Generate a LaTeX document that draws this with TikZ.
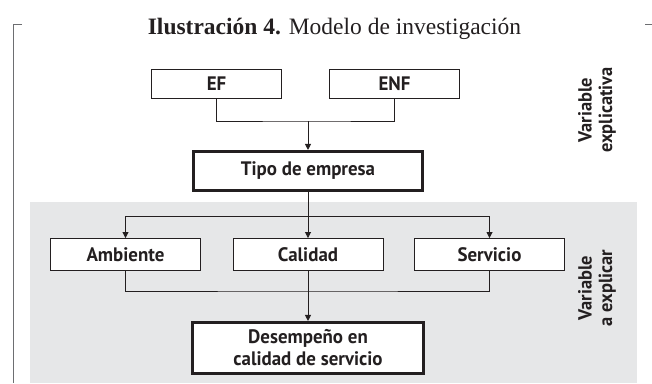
\documentclass[tikz,border=0pt]{standalone}
\usepackage{fontspec}
\setmainfont{Liberation Serif}
\newfontfamily\boxfont[FakeStretch=0.97]{PT Sans}
\usetikzlibrary{arrows.meta}
\definecolor{panelgray}{HTML}{E6E7E8}
\definecolor{markgray}{HTML}{6D6E71}
\definecolor{ink}{HTML}{231F20}
\tikzset{
  basebox/.style={draw=ink, fill=white, inner sep=0pt, text=ink,
    font=\boxfont\bfseries\fontsize{19.5}{22}\selectfont, align=center},
  thinbox/.style={basebox, line width=0.9pt},
  thickbox/.style={basebox, line width=2.6pt},
  conn/.style={draw=ink, line width=0.8pt},
  arr/.style={conn, -{Triangle[length=6pt,width=6pt]}},
  sidelabel/.style={rotate=90, align=center, text=ink, inner sep=0pt,
    font=\boxfont\bfseries\fontsize{19}{20.5}\selectfont},
  cornermark/.style={draw=markgray, line width=1pt}
}
\begin{document}
\begin{tikzpicture}[x=1pt,y=-1pt]
\useasboundingbox (0,0) rectangle (652,383);
% grey panel and frame marks
\fill[panelgray] (30,202) rectangle (637,383);
\draw[cornermark] (22,24) -- (13,24) -- (13,383);
\draw[cornermark] (645,24) -- (652,24);
% title
\node[anchor=base, inner sep=0pt, text=ink] (title) at (334.5,34)
  {\fontsize{23.5}{26}\selectfont\textbf{Ilustración 4.} Modelo de investigación};
% boxes
\node[thinbox, minimum width=130pt, minimum height=29pt] (ef)  at (216.5,84) {EF};
\node[thinbox, minimum width=130pt, minimum height=29pt] (enf) at (394.5,84) {ENF};
\node[thickbox, minimum width=229.5pt, minimum height=39.5pt] (tipo) at (308,171) {Tipo de empresa};
\node[thinbox, minimum width=150pt, minimum height=32pt] (amb)  at (125.5,254.5) {Ambiente};
\node[thinbox, minimum width=150pt, minimum height=32pt] (cal)  at (308,254.5) {Calidad};
\node[thinbox, minimum width=150pt, minimum height=32pt] (serv) at (489.5,254.5) {Servicio};
\node[thickbox, minimum width=230.5pt, minimum height=51.5pt] (des) at (308,348)
  {Desempeño en\\calidad de servicio};
% side labels
\node[sidelabel] (lab1) at (597,110) {Variable\\explicativa};
\node[sidelabel] (lab2) at (597,288) {Variable\\a explicar};
% connectors
\coordinate (j1) at (308,121);
\coordinate (j2) at (308,216);
\coordinate (j3) at (308,291);
\draw[conn] (ef.south) |- (j1) -| (enf.south);
\draw[arr] (j1) -- (tipo.north);
\draw[arr] (tipo.south) -- (cal.north);
\draw[arr] (j2) -| (amb.north);
\draw[arr] (j2) -| (serv.north);
\draw[conn] (amb.south) |- (j3) -| (serv.south);
\draw[arr] (cal.south) -- (des.north);
\end{tikzpicture}
\end{document}
